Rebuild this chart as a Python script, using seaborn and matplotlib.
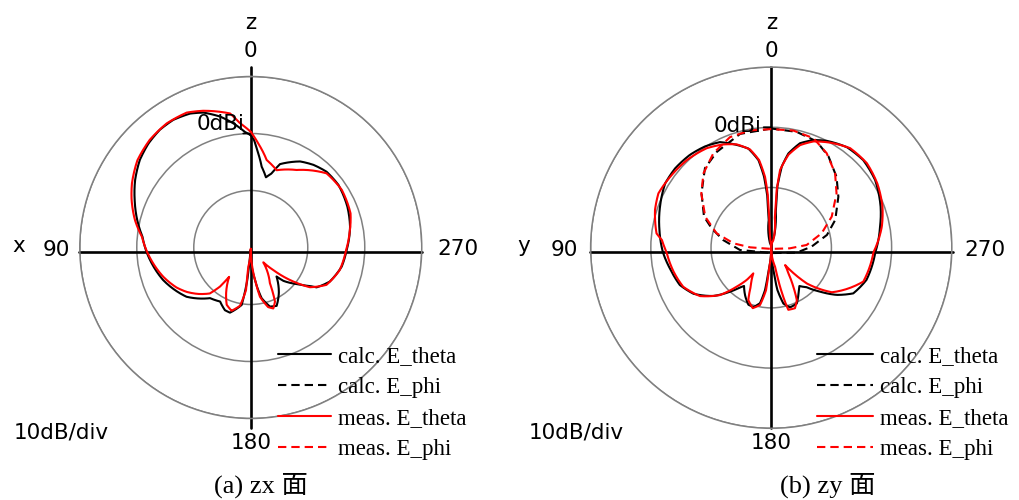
import numpy as np
import matplotlib
matplotlib.use('Agg')
import matplotlib.pyplot as plt
from matplotlib.lines import Line2D
import seaborn as sns

# ---- data (angle in deg, level in dBi) ----
# (a) zx plane
zx_calc_theta_deg = [0, 2.9, 8.0, 13.2, 19.4, 24.4, 31.3, 37.7, 44.5, 51.7, 59.7, 67.8, 76.4, 84.3, 92.5,
                     110.4, 127.5, 141.2, 150.4, 157.6, 162.3, 171.0, 173.9, 175.0, 176.9, 186.3, 192.1,
                     198.0, 203.9, 211.6, 221.6, 224.4, 231.5, 237.0, 238.8, 246.7, 258.1, 268.1, 281.9,
                     292.9, 305.5, 315.0, 322.8, 330.2, 340.7, 344.3, 347.8, 352.3, 356.2, 358.3, 360]
zx_calc_theta_db = [-0.3, 0.3, 2.0, 3.6, 5.1, 5.8, 6.2, 6.1, 5.6, 4.8, 3.5, 2.0, 0.5, -0.9, -1.7,
                    -3.6, -5.8, -8.6, -9.1, -8.1, -8.0, -9.8, -14.3, -18.4, -19.6, -14.9, -10.9,
                    -9.1, -8.8, -10.6, -13.2, -11.8, -9.7, -7.6, -6.5, -4.9, -3.7, -3.2, -2.2,
                    -1.6, -1.1, -1.2, -1.8, -2.6, -4.5, -6.5, -7.4, -5.7, -2.9, -1.1, -0.3]
zx_meas_theta_deg = [0, 5.0, 8.8, 19.2, 25.4, 34.1, 43.2, 52.4, 61.6, 68.3, 76.6, 84.3, 92.5, 108.4,
                     118.3, 124.6, 131.5, 138.3, 141.8, 143.6, 151.6, 157.2, 163.1, 169.5, 173.6, 172.7,
                     180, 187.4, 190.6, 196.3, 200.3, 204.1, 208.2, 220.2, 225.0, 229.3, 236.1, 243.7,
                     255.8, 268.1, 278.2, 288.9, 302.3, 314.4, 317.6, 329.4, 341.5, 349.7, 355.9, 360]
zx_meas_theta_db = [0.3, 1.9, 3.8, 5.4, 6.2, 6.3, 5.9, 5.1, 3.7, 2.5, 0.9, -0.8, -1.8, -3.8,
                    -5.2, -6.3, -7.7, -9.2, -11.3, -13.6, -10.9, -9.1, -8.4, -9.6, -12.5, -16.6,
                    -19.8, -14.3, -11.2, -9.1, -8.6, -9.6, -12.9, -16.6, -14.4, -11.7, -7.5, -5.2,
                    -3.9, -3.3, -2.5, -1.5, -1.1, -1.4, -2.0, -4.2, -5.7, -4.4, -1.7, 0.3]

# (b) zy plane
zy_calc_theta_deg = [0, 15.4, 5.2, 4.3, 5.8, 8.3, 13.0, 19.0, 25.9, 33.2, 41.2, 50.5, 58.8, 69.7, 81.0,
                     92.5, 102.5, 112.2, 120.7, 129.9, 136.9, 141.8, 144.6, 152.2, 158.2, 163.3, 168.6,
                     171.7, 173.5, 180, 185.5, 188.3, 192.3, 197.5, 204.6, 211.0, 216.3, 221.8, 228.0,
                     234.2, 240.9, 251.3, 267.4, 280.9, 290.5, 303.1, 313.6, 323.0, 332.6, 338.6, 344.6,
                     349.7, 352.6, 354.3, 353.2, 345.8, 360]
zy_calc_theta_db = [-20, -19.2, -15.4, -11.5, -8.1, -5.3, -3.1, -1.9, -0.5, 0.1, 0.5, 0.7, 0.6, -0.3, -1.2,
                    -2.0, -2.9, -3.6, -5.0, -7.5, -10.0, -11.6, -12.2, -10.8, -9.8, -9.7, -10.6,
                    -12.9, -16.3, -19.9, -16.3, -12.9, -10.5, -9.6, -9.8, -11.2, -12.1, -11.2, -9.1,
                    -6.6, -4.4, -3.3, -2.7, -1.6, -0.6, 0.6, 1.1, 0.9, 0.0, -0.8, -2.0,
                    -4.1, -6.4, -9.8, -13.7, -18.1, -20]
zy_meas_theta_deg = [0, 7.0, 3.9, 3.6, 5.0, 7.9, 12.2, 18.5, 24.8, 33.0, 43.9, 54.9, 64.3, 72.0, 82.9,
                     86.0, 92.5, 103.8, 113.9, 124.2, 132.7, 138.5, 142.8, 145.1, 152.2, 156.4, 163.0,
                     168.9, 173.0, 174.4, 180, 191.3, 192.7, 194.3, 195.4, 201.4, 206.0, 209.6, 213.8,
                     218.6, 224.9, 233.7, 249.8, 267.4, 280.8, 290.3, 301.2, 311.5, 321.6, 330.8, 338.3,
                     344.3, 349.5, 353.5, 354.6, 353.6, 344.5, 360]
zy_meas_theta_db = [-20, -19.3, -15.4, -11.5, -8.2, -5.3, -3.3, -1.9, -1.1, -0.3, 0.2, 0.5, 0.8, 0.3, -0.8,
                    -1.8, -2.6, -3.3, -4.0, -5.7, -8.4, -11.4, -13.3, -14.8, -12.7, -10.5, -9.5,
                    -10.3, -12.9, -16.8, -19.9, -16.8, -13.4, -10.7, -9.3, -9.2, -10.3, -12.6, -14.9,
                    -16.3, -11.6, -7.5, -3.7, -3.0, -1.3, -0.3, 0.6, 1.2, 1.1, 0.0, -1.0,
                    -2.3, -4.3, -7.0, -10.4, -14.8, -18.7, -20]
zy_calc_phi_deg = [0, 15.3, 29.6, 39.8, 52.0, 65.2, 72.0, 80.9, 94.2, 188.1, 259.0, 271.5, 282.9, 293.5,
                   307.2, 317.3, 327.9, 336.8, 347.6, 360]
zy_calc_phi_db = [-0.2, -0.4, -1.7, -2.8, -5.3, -7.7, -9.6, -11.9, -14.8, -19.1, -15.7, -13.3, -10.5, -8.4,
                  -6.0, -4.0, -2.1, -0.8, -0.3, -0.2]
zy_meas_phi_deg = [0, 10.3, 20.5, 31.5, 42.4, 52.2, 64.9, 75.2, 83.4, 89.0, 180, 268.1, 274.4, 285.9,
                   297.2, 309.7, 319.4, 329.6, 338.9, 349.3, 360]
zy_meas_phi_db = [-0.3, -0.2, -0.4, -1.6, -3.3, -5.3, -7.9, -10.6, -13.7, -16.5, -19.8, -16.9, -14.1, -11.3,
                  -8.7, -5.9, -3.7, -1.8, -0.5, -0.2, -0.3]

legend_labels = ['calc. E_theta', 'calc. E_phi', 'meas. E_theta', 'meas. E_phi']

sns.set_style('white')
plt.rcParams['font.family'] = ['DejaVu Sans']
plt.rcParams['text.color'] = 'black'

fig = plt.figure(figsize=(10.19, 5.0), dpi=100)
ax_l = fig.add_axes([0.0783, 0.163, 0.3356, 0.684], projection='polar')
ax_r = fig.add_axes([0.5796, 0.1434, 0.3545, 0.7224], projection='polar')

serif = ['Liberation Serif', 'Noto Sans CJK JP']
sans_fs = 15.5
DASH = (0, (4, 2.4))


def setup(ax, side_name, lab):
    ax.set_theta_zero_location('N')
    ax.set_theta_direction(1)
    ax.set_ylim(-20, 10)
    ax.set_yticks([-10, 0, 10])
    ax.set_yticklabels([])
    ax.set_xticks([])
    ax.grid(True, axis='y', color='#808080', lw=1.1)
    ax.spines['polar'].set_color('#808080')
    ax.spines['polar'].set_linewidth(1.1)
    # cross axes (the horizontal one sits a little below the pole, as in the original)
    ax.plot([0.5, 0.5], lab['vert'], color='black', lw=1.9, transform=ax.transAxes,
            clip_on=False, zorder=2)
    ax.plot([-0.003, 1.002], [lab['hy'], lab['hy']], color='black', lw=1.9,
            transform=ax.transAxes, clip_on=False, zorder=2)
    # 0 dB tick on the vertical axis
    ax.plot([0, np.deg2rad(lab['tick'])], [0, 0.05], color='black', lw=1.2, zorder=2)
    kw = dict(ha='center', va='center', fontsize=sans_fs, clip_on=False)
    ax.text(0, lab['z'], 'z', **kw)
    ax.text(0, lab['0'], '0', **kw)
    ax.text(np.pi, lab['180'], '180', **kw)
    ax.text(np.deg2rad(90.6), lab['90'], '90', **kw)
    ax.text(np.deg2rad(89.6), lab['side'], side_name, **kw)
    ax.text(np.deg2rad(269.5), lab['270'], '270', **kw)
    ax.text(np.deg2rad(lab['dbi_th']), lab['dbi_r'], '0dBi', zorder=5, **kw)


setup(ax_l, 'x', {'vert': [-0.028, 1.028], 'hy': 0.4868, 'tick': 3.8, 'z': 19.4, '0': 14.4,
                  '180': 14.3, '90': 14.2, 'side': 20.7, '270': 16.3, 'dbi_th': 13.9, 'dbi_r': 2.4})
setup(ax_r, 'y', {'vert': [0.0, 1.0], 'hy': 0.4881, 'tick': 3.6, 'z': 17.3, '0': 12.6,
                  '180': 12.4, '90': 14.3, 'side': 21.2, '270': 15.5, 'dbi_th': 15.3, 'dbi_r': 0.9})


def curve(ax, deg, db, color, ls, arcs=True):
    sns.lineplot(x=np.deg2rad(deg), y=db, ax=ax, sort=False, estimator=None, color=color,
                 linewidth=1.5, linestyle=ls, legend=False, zorder=3)
    if arcs:
        # let the polar transform join samples along arcs instead of chords
        ax.lines[-1].get_path()._interpolation_steps = 20


curve(ax_l, zx_calc_theta_deg, zx_calc_theta_db, 'black', '-')
curve(ax_l, zx_meas_theta_deg, zx_meas_theta_db, 'red', '-')
curve(ax_r, zy_calc_theta_deg, zy_calc_theta_db, 'black', '-')
curve(ax_r, zy_calc_phi_deg, zy_calc_phi_db, 'black', DASH, arcs=False)
curve(ax_r, zy_meas_theta_deg, zy_meas_theta_db, 'red', '-')
curve(ax_r, zy_meas_phi_deg, zy_meas_phi_db, 'red', DASH, arcs=False)
for ax in (ax_l, ax_r):
    ax.set_xlabel('')
    ax.set_ylabel('')
    ax.set_ylim(-20, 10)

handles = [Line2D([], [], color='black', lw=1.5),
           Line2D([], [], color='black', lw=1.5, ls=DASH),
           Line2D([], [], color='red', lw=1.5),
           Line2D([], [], color='red', lw=1.5, ls=DASH)]
for x0, hl, tp in ((278 / 1019, 2.3, 0.34), (817 / 1019, 2.45, 0.3)):
    fig.legend(handles, legend_labels, loc='upper left', bbox_to_anchor=(x0, 1 - 346 / 500),
               bbox_transform=fig.transFigure, frameon=False, borderpad=0, borderaxespad=0,
               handlelength=hl, handletextpad=tp, labelspacing=0.44,
               prop={'family': serif, 'size': 16.5})

fig.text(61.5 / 1019, 1 - 433 / 500, '10dB/div', ha='center', va='center', fontsize=sans_fs)
fig.text(576.5 / 1019, 1 - 433 / 500, '10dB/div', ha='center', va='center', fontsize=sans_fs)
fig.text(260.5 / 1019, 1 - 485.5 / 500, '(a) zx 面', ha='center', va='center', fontsize=19, family=serif)
fig.text(828 / 1019, 1 - 485.5 / 500, '(b) zy 面', ha='center', va='center', fontsize=19, family=serif)

fig.savefig('out.png', dpi=100, facecolor='white')
